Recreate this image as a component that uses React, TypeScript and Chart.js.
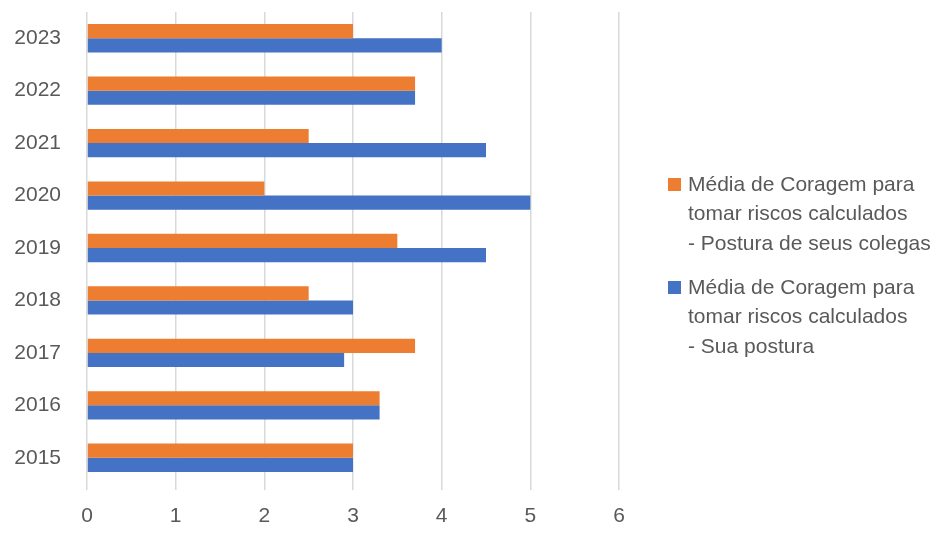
import React, { useEffect, useRef } from "react";
import { Chart, registerables } from "chart.js";

Chart.register(...registerables);

const years = ["2015", "2016", "2017", "2018", "2019", "2020", "2021", "2022", "2023"];
const colegas = [3.0, 3.3, 3.7, 2.5, 3.5, 2.0, 2.5, 3.7, 3.0];
const suaPostura = [3.0, 3.3, 2.9, 3.0, 4.5, 5.0, 4.5, 3.7, 4.0];
const legendColegas = ["Média de Coragem para", "tomar riscos calculados", "- Postura de seus colegas"];
const legendSua = ["Média de Coragem para", "tomar riscos calculados", "- Sua postura"];
const xTicks = [0, 1, 2, 3, 4, 5, 6];

const FONT = "'Liberation Sans', Arial, sans-serif";
const TEXT = "#595959";

const legendPlugin = {
  id: "sideLegend",
  afterDraw(chart: any) {
    const ctx = chart.ctx;
    ctx.save();
    const x0 = 668;
    const starts = [185, 288];
    chart.data.datasets.forEach((ds: any, i: number) => {
      const lines: string[] = ds.legendLines;
      const y = starts[i];
      ctx.fillStyle = ds.backgroundColor;
      ctx.fillRect(x0, y - 7, 13, 13);
      ctx.fillStyle = TEXT;
      ctx.font = `21px ${FONT}`;
      ctx.textBaseline = "middle";
      ctx.textAlign = "left";
      lines.forEach((ln, j) => {
        ctx.fillText(ln, x0 + 20, y + j * 29.5);
      });
    });
    ctx.restore();
  },
};

export default function App() {
  const ref = useRef<HTMLCanvasElement>(null);
  useEffect(() => {
    if (!ref.current) return;
    const chart = new Chart(ref.current, {
      type: "bar",
      data: {
        labels: years,
        datasets: [
          {
            label: legendColegas.join(" "),
            legendLines: legendColegas,
            data: colegas,
            backgroundColor: "#ED7D31",
            categoryPercentage: 0.54,
            barPercentage: 1,
          } as any,
          {
            label: legendSua.join(" "),
            legendLines: legendSua,
            data: suaPostura,
            backgroundColor: "#4472C4",
            categoryPercentage: 0.54,
            barPercentage: 1,
          } as any,
        ],
      },
      options: {
        indexAxis: "y",
        animation: false,
        responsive: false,
        maintainAspectRatio: false,
        layout: { padding: { left: 0, right: 323, top: 12, bottom: 0 } },
        plugins: {
          legend: { display: false },
          tooltip: { enabled: false },
        },
        scales: {
          x: {
            min: 0,
            max: 6,
            afterBuildTicks(scale: any) {
              scale.ticks = xTicks.map((v) => ({ value: v }));
            },
            afterFit(scale: any) {
              scale.height = 56;
              scale.paddingLeft = 0;
              scale.paddingRight = 0;
            },
            grid: { color: "#D9D9D9", lineWidth: 1.5, drawTicks: true, tickLength: 6 },
            border: { display: false },
            ticks: {
              color: TEXT,
              font: { family: FONT, size: 21 },
              padding: 14,
            },
          },
          y: {
            reverse: true,
            afterFit(scale: any) {
              scale.width = 87;
              scale.paddingTop = 0;
              scale.paddingBottom = 0;
            },
            grid: { display: false },
            border: { display: false },
            ticks: {
              color: TEXT,
              font: { family: FONT, size: 21 },
              padding: 18,
            },
          },
        },
      },
      plugins: [legendPlugin],
    });
    return () => chart.destroy();
  }, []);
  return (
    <div style={{ position: "absolute", left: 0, top: 0, width: 942, height: 540, background: "#fff" }}>
      <canvas ref={ref} width={942} height={540} style={{ display: "block" }} />
    </div>
  );
}
